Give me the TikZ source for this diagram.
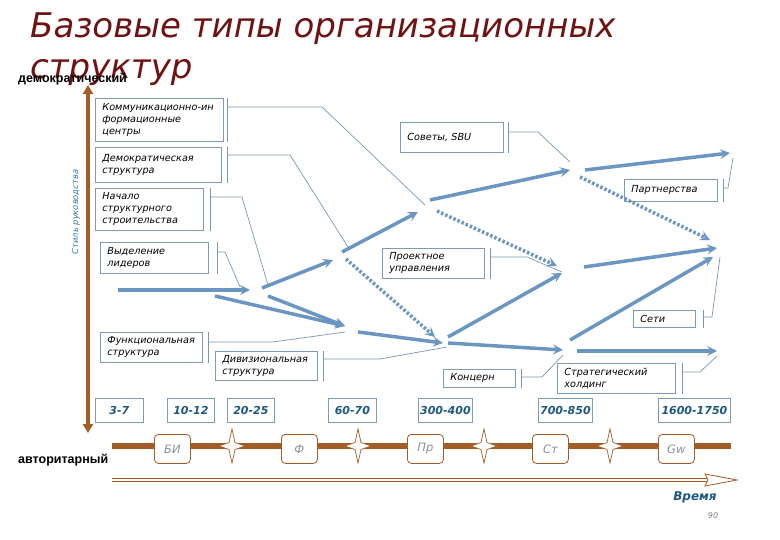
\documentclass[tikz,border=0pt]{standalone}
\usepackage{fontspec}
\setmainfont{DejaVu Sans}
\newfontfamily\libfont{Liberation Sans}
\usetikzlibrary{arrows.meta}
\definecolor{titlered}{RGB}{110,18,18}
\definecolor{flowc}{RGB}{108,150,194}
\definecolor{leadc}{RGB}{120,152,178}
\definecolor{boxline}{RGB}{125,155,180}
\definecolor{numblue}{RGB}{30,88,130}
\definecolor{brownc}{RGB}{163,92,38}
\definecolor{greytxt}{RGB}{135,145,160}
\definecolor{axisblue}{RGB}{50,120,170}
\tikzset{
  flowarrow/.style={draw=flowc, line width=3.5pt, -{Stealth[length=10pt,width=10pt,inset=4pt]}},
  dotarrow/.style={flowarrow, dash pattern=on 2.5pt off 2pt},
  leadline/.style={draw=leadc, line width=0.7pt},
  infobox/.style={draw=boxline, line width=0.8pt, anchor=north west, align=left, inner xsep=7pt, inner ysep=0pt, font=\fontsize{9.7}{12}\selectfont\itshape},
  numbox/.style={draw=boxline, line width=0.8pt, minimum height=24pt, anchor=north west, font=\fontsize{11}{12}\selectfont\bfseries\itshape, text=numblue, inner sep=0pt},
  stagebox/.style={draw=brownc, fill=white, rounded corners=4pt, line width=0.8pt, minimum width=36pt, minimum height=29pt, anchor=north west, font=\fontsize{11.5}{12}\selectfont\itshape, text=greytxt, inner sep=0pt},
  axislabel/.style={font=\libfont\bfseries\fontsize{12.5}{14}\selectfont, anchor=base west, inner sep=0pt},
  star4/.pic={\draw[brownc, fill=white, line width=0.7pt] (0,-17) -- (3,-3.5) -- (13,0) -- (3,3.5) -- (0,17) -- (-3,3.5) -- (-13,0) -- (-3,-3.5) -- cycle;}
}
\begin{document}
\begin{tikzpicture}[x=1pt,y=-1pt]
\fill[white] (0,0) rectangle (780,540);
\useasboundingbox (0,0) rectangle (780,540);

% title
\node[anchor=base west, inner sep=0, font=\fontsize{34}{40}\selectfont\itshape, text=titlered] (title1) at (30,38) {Базовые типы организационных};
\node[anchor=base west, inner sep=0, font=\fontsize{34}{40}\selectfont\itshape, text=titlered] (title2) at (30,79) {структур};

% axes labels
\node[axislabel] (demo) at (18,83) {демократический};
\node[axislabel] (auto) at (18,463) {авторитарный};
\coordinate (vtop) at (88,85);
\coordinate (vbot) at (88,433);
\draw[brownc, line width=3.5pt, {Triangle[length=9pt,width=10pt]}-{Triangle[length=9pt,width=10pt]}] (vtop) -- (vbot);
\node[rotate=90, font=\fontsize{8.3}{9}\selectfont\itshape, text=axisblue] (style) at (76,212) {Стиль руководства};

% flow meeting points
\coordinate (pK) at (425,205);
\coordinate (pD) at (348,247);
\coordinate (pN) at (268,285);
\coordinate (pV) at (240,287);
\coordinate (pS) at (570,162);
\coordinate (pP) at (733,158);
\coordinate (pPr) at (562,272);
\coordinate (pSe) at (720,257);
\coordinate (pF) at (345,332);
\coordinate (pDv) at (447,347);
\coordinate (pKo) at (563,355);
\coordinate (pSt) at (717,356);

% info boxes
\node[infobox, minimum width=128pt, minimum height=43pt, text width=114pt] (b1) at (95,98) {Коммуникационно-ин\\формационные\\центры};
\node[infobox, minimum width=126pt, minimum height=35pt, text width=112pt] (b2) at (95,147) {Демократическая\\структура};
\node[infobox, minimum width=108pt, minimum height=42pt, text width=94pt] (b3) at (95,188) {Начало\\структурного\\строительства};
\node[infobox, minimum width=108pt, minimum height=31pt, text width=94pt] (b4) at (100,242) {Выделение\\лидеров};
\node[infobox, minimum width=103pt, minimum height=30pt, text width=89pt] (b5) at (400,122) {Советы, SBU};
\node[infobox, minimum width=93pt, minimum height=22pt, text width=79pt] (b6) at (624,179) {Партнерства};
\node[infobox, minimum width=102pt, minimum height=30pt, text width=88pt] (b7) at (382,248) {Проектное\\управления};
\node[infobox, minimum width=62pt, minimum height=17pt, text width=48pt] (b8) at (633,310) {Сети};
\node[infobox, minimum width=102pt, minimum height=30pt, text width=88pt] (b9) at (100,332) {Функциональная\\структура};
\node[infobox, minimum width=102pt, minimum height=29pt, text width=88pt] (b10) at (215,351) {Дивизиональная\\структура};
\node[infobox, minimum width=72pt, minimum height=18pt, text width=58pt] (b11) at (443,369) {Концерн};
\node[infobox, minimum width=118pt, minimum height=30pt, text width=104pt] (b12) at (557,363) {Стратегический\\холдинг};

% brackets and lead lines
\foreach \b/\dx in {b1/4,b2/6,b3/7,b4/9,b5/5,b6/6,b7/6,b8/8,b9/6,b10/6,b11/6,b12/7}{
  \draw[leadline] ([xshift=\dx pt]\b.north east) -- ([xshift=\dx pt]\b.south east);
}
\draw[leadline] ([shift={(4,9)}]b1.north east) -- (322,107) -- (pK);
\draw[leadline] ([shift={(6,8)}]b2.north east) -- (290,155) -- (pD);
\draw[leadline] ([shift={(7,9)}]b3.north east) -- (242,197) -- (pN);
\draw[leadline] ([shift={(9,10)}]b4.north east) -- (225,252) -- (pV);
\draw[leadline] ([shift={(5,10)}]b5.north east) -- (538,132) -- (pS);
\draw[leadline] ([shift={(6,9)}]b6.north east) -- (728,188) -- (pP);
\draw[leadline] ([shift={(6,9)}]b7.north east) -- (527,257) -- (pPr);
\draw[leadline] ([shift={(8,7)}]b8.north east) -- (712,317) -- (pSe);
\draw[leadline] ([shift={(6,10)}]b9.north east) -- (273,342) -- (pF);
\draw[leadline] ([shift={(6,8)}]b10.north east) -- (380,359) -- (pDv);
\draw[leadline] ([shift={(6,8)}]b11.north east) -- (542,377) -- (pKo);
\draw[leadline] ([shift={(7,9)}]b12.north east) -- (700,372) -- (pSt);

% flow arrows
\coordinate (a1s) at (118,290);
\coordinate (a2s) at (215,296);
\draw[flowarrow] (a1s) -- ([xshift=10pt,yshift=-3pt]pV);
\draw[flowarrow] (a2s) -- ([shift={(0,-6)}]pF);
\draw[flowarrow] ([shift={(0,11)}]pN) -- ([shift={(0,-6)}]pF);
\draw[flowarrow] ([shift={(-6,3)}]pN) -- ([shift={(-15,13)}]pD);
\draw[flowarrow] ([shift={(-6,5)}]pD) -- ([shift={(-7,7)}]pK);
\draw[flowarrow] ([shift={(5,-5)}]pK) -- ([shift={(0,8)}]pS);
\draw[flowarrow] ([shift={(15,8)}]pS) -- ([shift={(-3,-5)}]pP);
\draw[flowarrow] ([shift={(22,-5)}]pPr) -- ([shift={(-3,-9)}]pSe);
\draw[flowarrow] ([shift={(13,0)}]pF) -- ([shift={(-4,-4)}]pDv);
\draw[flowarrow] ([shift={(1,-10)}]pDv) -- ([shift={(0,1)}]pPr);
\draw[flowarrow] ([shift={(1,-4)}]pDv) -- ([shift={(0,-5)}]pKo);
\draw[flowarrow] ([shift={(7,-15)}]pKo) -- ([shift={(-7,0)}]pSe);
\draw[flowarrow] ([shift={(14,-4)}]pKo) -- ([shift={(0,-5)}]pSt);
\draw[dotarrow] ([shift={(-2,12)}]pD) -- ([shift={(-12,-10)}]pDv);
\draw[dotarrow] ([shift={(12,6)}]pK) -- ([shift={(-5,-6)}]pPr);
\draw[dotarrow] ([shift={(10,15)}]pS) -- ([shift={(-10,-17)}]pSe);

% number boxes
\node[numbox, minimum width=48pt] (n1) at (95,398) {3-7};
\node[numbox, minimum width=47pt] (n2) at (167,398) {10-12};
\node[numbox, minimum width=47pt] (n3) at (227,398) {20-25};
\node[numbox, minimum width=48pt] (n4) at (328,398) {60-70};
\node[numbox, minimum width=54pt] (n5) at (418,398) {300-400};
\node[numbox, minimum width=54pt] (n6) at (538,398) {700-850};
\node[numbox, minimum width=72pt] (n7) at (658,398) {1600-1750};

% brown band with stages
\coordinate (bandL) at (112,446);
\coordinate (bandR) at (731,446);
\draw[brownc, line width=6pt] (bandL) -- (bandR);
\node[stagebox] (s1) at (154,434) {БИ};
\node[stagebox] (s2) at (281,434) {Ф};
\node[stagebox] (s3) at (407,434) {Пр};
\node[stagebox] (s4) at (532,434) {Ст};
\node[stagebox] (s5) at (658,434) {Gw};
\foreach \x in {232,358,484,610}{ \pic at (\x,446) {star4}; }

% time arrow
\coordinate (tL) at (112,480);
\coordinate (tR) at (708,480);
\draw[brownc, line width=0.8pt, double=white, double distance=2.6pt] (tL) -- (tR);
\draw[brownc, fill=white, line width=0.8pt] (705,474) -- (737,480) -- (705,486) -- (708,480) -- cycle;
\node[font=\fontsize{12}{14}\selectfont\bfseries\itshape, text=numblue] (time) at (695,497) {Время};
\node[font=\fontsize{8}{9}\selectfont\itshape, text=gray] (page) at (713,516) {90};
\end{tikzpicture}
\end{document}
